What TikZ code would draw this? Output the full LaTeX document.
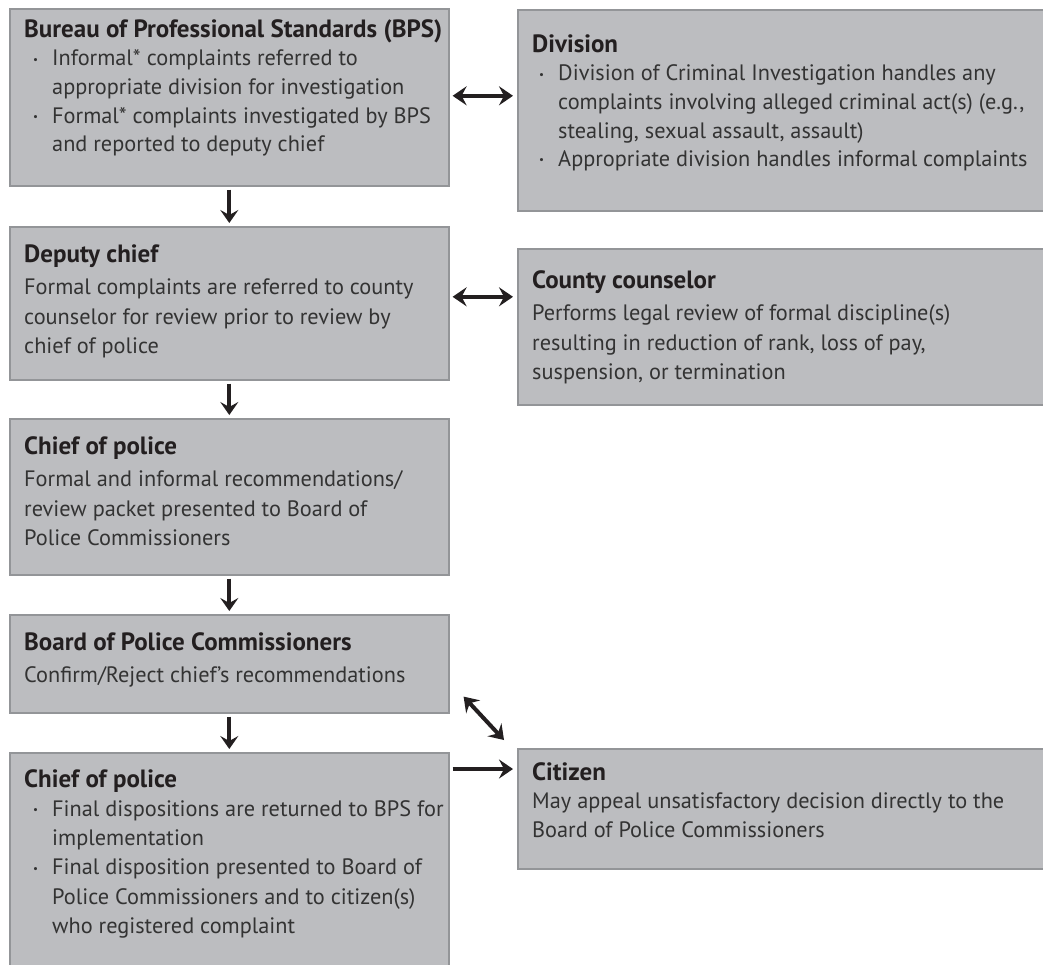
\documentclass[tikz,border=0pt]{standalone}
\usepackage{fontspec}
\setmainfont{PT Sans}
\usetikzlibrary{arrows.meta,calc}
\definecolor{boxfill}{HTML}{BCBDC0}
\definecolor{boxline}{HTML}{939598}
\definecolor{ink}{HTML}{231F20}
\definecolor{bodyink}{HTML}{333333}
\newcommand{\strt}{\rule{0pt}{20pt}}
\newcommand{\ttl}[1]{{\color{ink}\fontsize{25}{28.6}\selectfont\bfseries #1}}
\newcommand{\dotmark}{\raisebox{2.8pt}{\fontsize{11}{11}\selectfont\textbullet}}
\newcommand{\lb}{\makebox[28pt][l]{\hspace{9pt}\dotmark}}
\newcommand{\rb}{\makebox[26pt][l]{\hspace{7pt}\dotmark}}
\begin{document}
\begin{tikzpicture}[x=1pt,y=-1pt,
  box/.style={draw=boxline,fill=boxfill,line width=1.6pt,anchor=north west,inner sep=0pt},
  txt/.style={anchor=north west,inner sep=0pt,align=left,text=bodyink,font=\fontsize{22.3}{28.6}\selectfont},
  ptxt/.style={txt,font=\fontsize{22.3}{29.5}\selectfont},
  dbl/.style={draw=ink,line width=4pt,{Stealth[length=14pt,width=19pt,inset=5pt]}-{Stealth[length=14pt,width=19pt,inset=5pt]},shorten <=3pt,shorten >=4pt},
  sgl/.style={draw=ink,line width=4pt,-{Stealth[length=14pt,width=19pt,inset=5pt]},shorten <=3pt,shorten >=4pt},
  down/.style={draw=ink,line width=4pt,-{Stealth[length=13pt,width=18pt,inset=5pt]},shorten <=3pt,shorten >=3pt}]
\useasboundingbox (0,0) rectangle (1043,964);
\fill[white] (0,0) rectangle (1043,964);
% boxes
\node[box,minimum width=439pt,minimum height=177pt] (bps) at (9,8) {};
\node[box,minimum width=540pt,minimum height=201pt] (div) at (517,9) {};
\node[box,minimum width=439pt,minimum height=153pt] (dep) at (9,226) {};
\node[box,minimum width=540pt,minimum height=156pt] (cty) at (517,248) {};
\node[box,minimum width=439pt,minimum height=156pt] (cop1) at (9,418) {};
\node[box,minimum width=439pt,minimum height=98pt] (bpc) at (9,614) {};
\node[box,minimum width=439pt,minimum height=230pt] (cop2) at (9,752) {};
\node[box,minimum width=540pt,minimum height=120pt] (cit) at (517,748) {};
% texts
\node[txt] (tbps) at (24,17) {\begin{tabular}[t]{@{}l@{}l@{}}
\multicolumn{2}{@{}l@{}}{\ttl{Bureau of Professional Standards (BPS)}}\\
\lb & Informal* complaints referred to\\
 & appropriate division for investigation\\
\lb & Formal* complaints investigated by BPS\\
 & and reported to deputy chief
\end{tabular}};
\node[txt] (tdiv) at (532,32) {\begin{tabular}[t]{@{}l@{}l@{}}
\multicolumn{2}{@{}l@{}}{\ttl{Division}}\\
\rb & Division of Criminal Investigation handles any\\
 & complaints involving alleged criminal act(s) (e.g.,\\
 & stealing, sexual assault, assault)\\
\rb & Appropriate division handles informal complaints
\end{tabular}};
\node[ptxt] (tdep) at (24,242) {\strt\ttl{Deputy chief}\\[3pt]
Formal complaints are referred to county\\
counselor for review prior to review by\\
chief of police};
\node[ptxt] (tcty) at (532,268) {\strt\ttl{County counselor}\\[3pt]
Performs legal review of formal discipline(s)\\
resulting in reduction of rank, loss of pay,\\
suspension, or termination};
\node[ptxt] (tcop1) at (24,434) {\strt\ttl{Chief of police}\\[3pt]
Formal and informal recommendations/\\
review packet presented to Board of\\
Police Commissioners};
\node[ptxt] (tbpc) at (24,630) {\strt\ttl{Board of Police Commissioners}\\[3pt]
Confirm/Reject chief's recommendations};
\node[txt,font=\fontsize{22.3}{29.2}\selectfont] (tcop2) at (24,766.6) {\begin{tabular}[t]{@{}l@{}l@{}}
\multicolumn{2}{@{}l@{}}{\ttl{Chief of police}}\\
\lb & Final dispositions are returned to BPS for\\
 & implementation\\
\lb & Final disposition presented to Board of\\
 & Police Commissioners and to citizen(s)\\
 & who registered complaint
\end{tabular}};
\node[txt] (tcit) at (532,760) {\strt\ttl{Citizen}\\
May appeal unsatisfactory decision directly to the\\
Board of Police Commissioners};
% connectors
\draw[dbl] ([yshift=1.5pt]bps.east) -- ([yshift=1.5pt]bps.east -| div.west);
\draw[dbl] ([yshift=6.5pt]dep.east) -- ([yshift=6.5pt]dep.east -| cty.west);
\draw[down] (bps.south) -- (dep.north);
\draw[down] (dep.south) -- (cop1.north);
\draw[down] (cop1.south) -- (bpc.north);
\draw[down] (bpc.south) -- (cop2.north);
\draw[dbl,shorten <=0pt,shorten >=0pt] ($(bpc.south east)+(14,-17)$) -- ($(cit.north west)+(-13,-8)$);
\draw[sgl] ([yshift=-17pt]cop2.north east) -- ([yshift=-17pt]cop2.north east -| cit.west);
\end{tikzpicture}
\end{document}
